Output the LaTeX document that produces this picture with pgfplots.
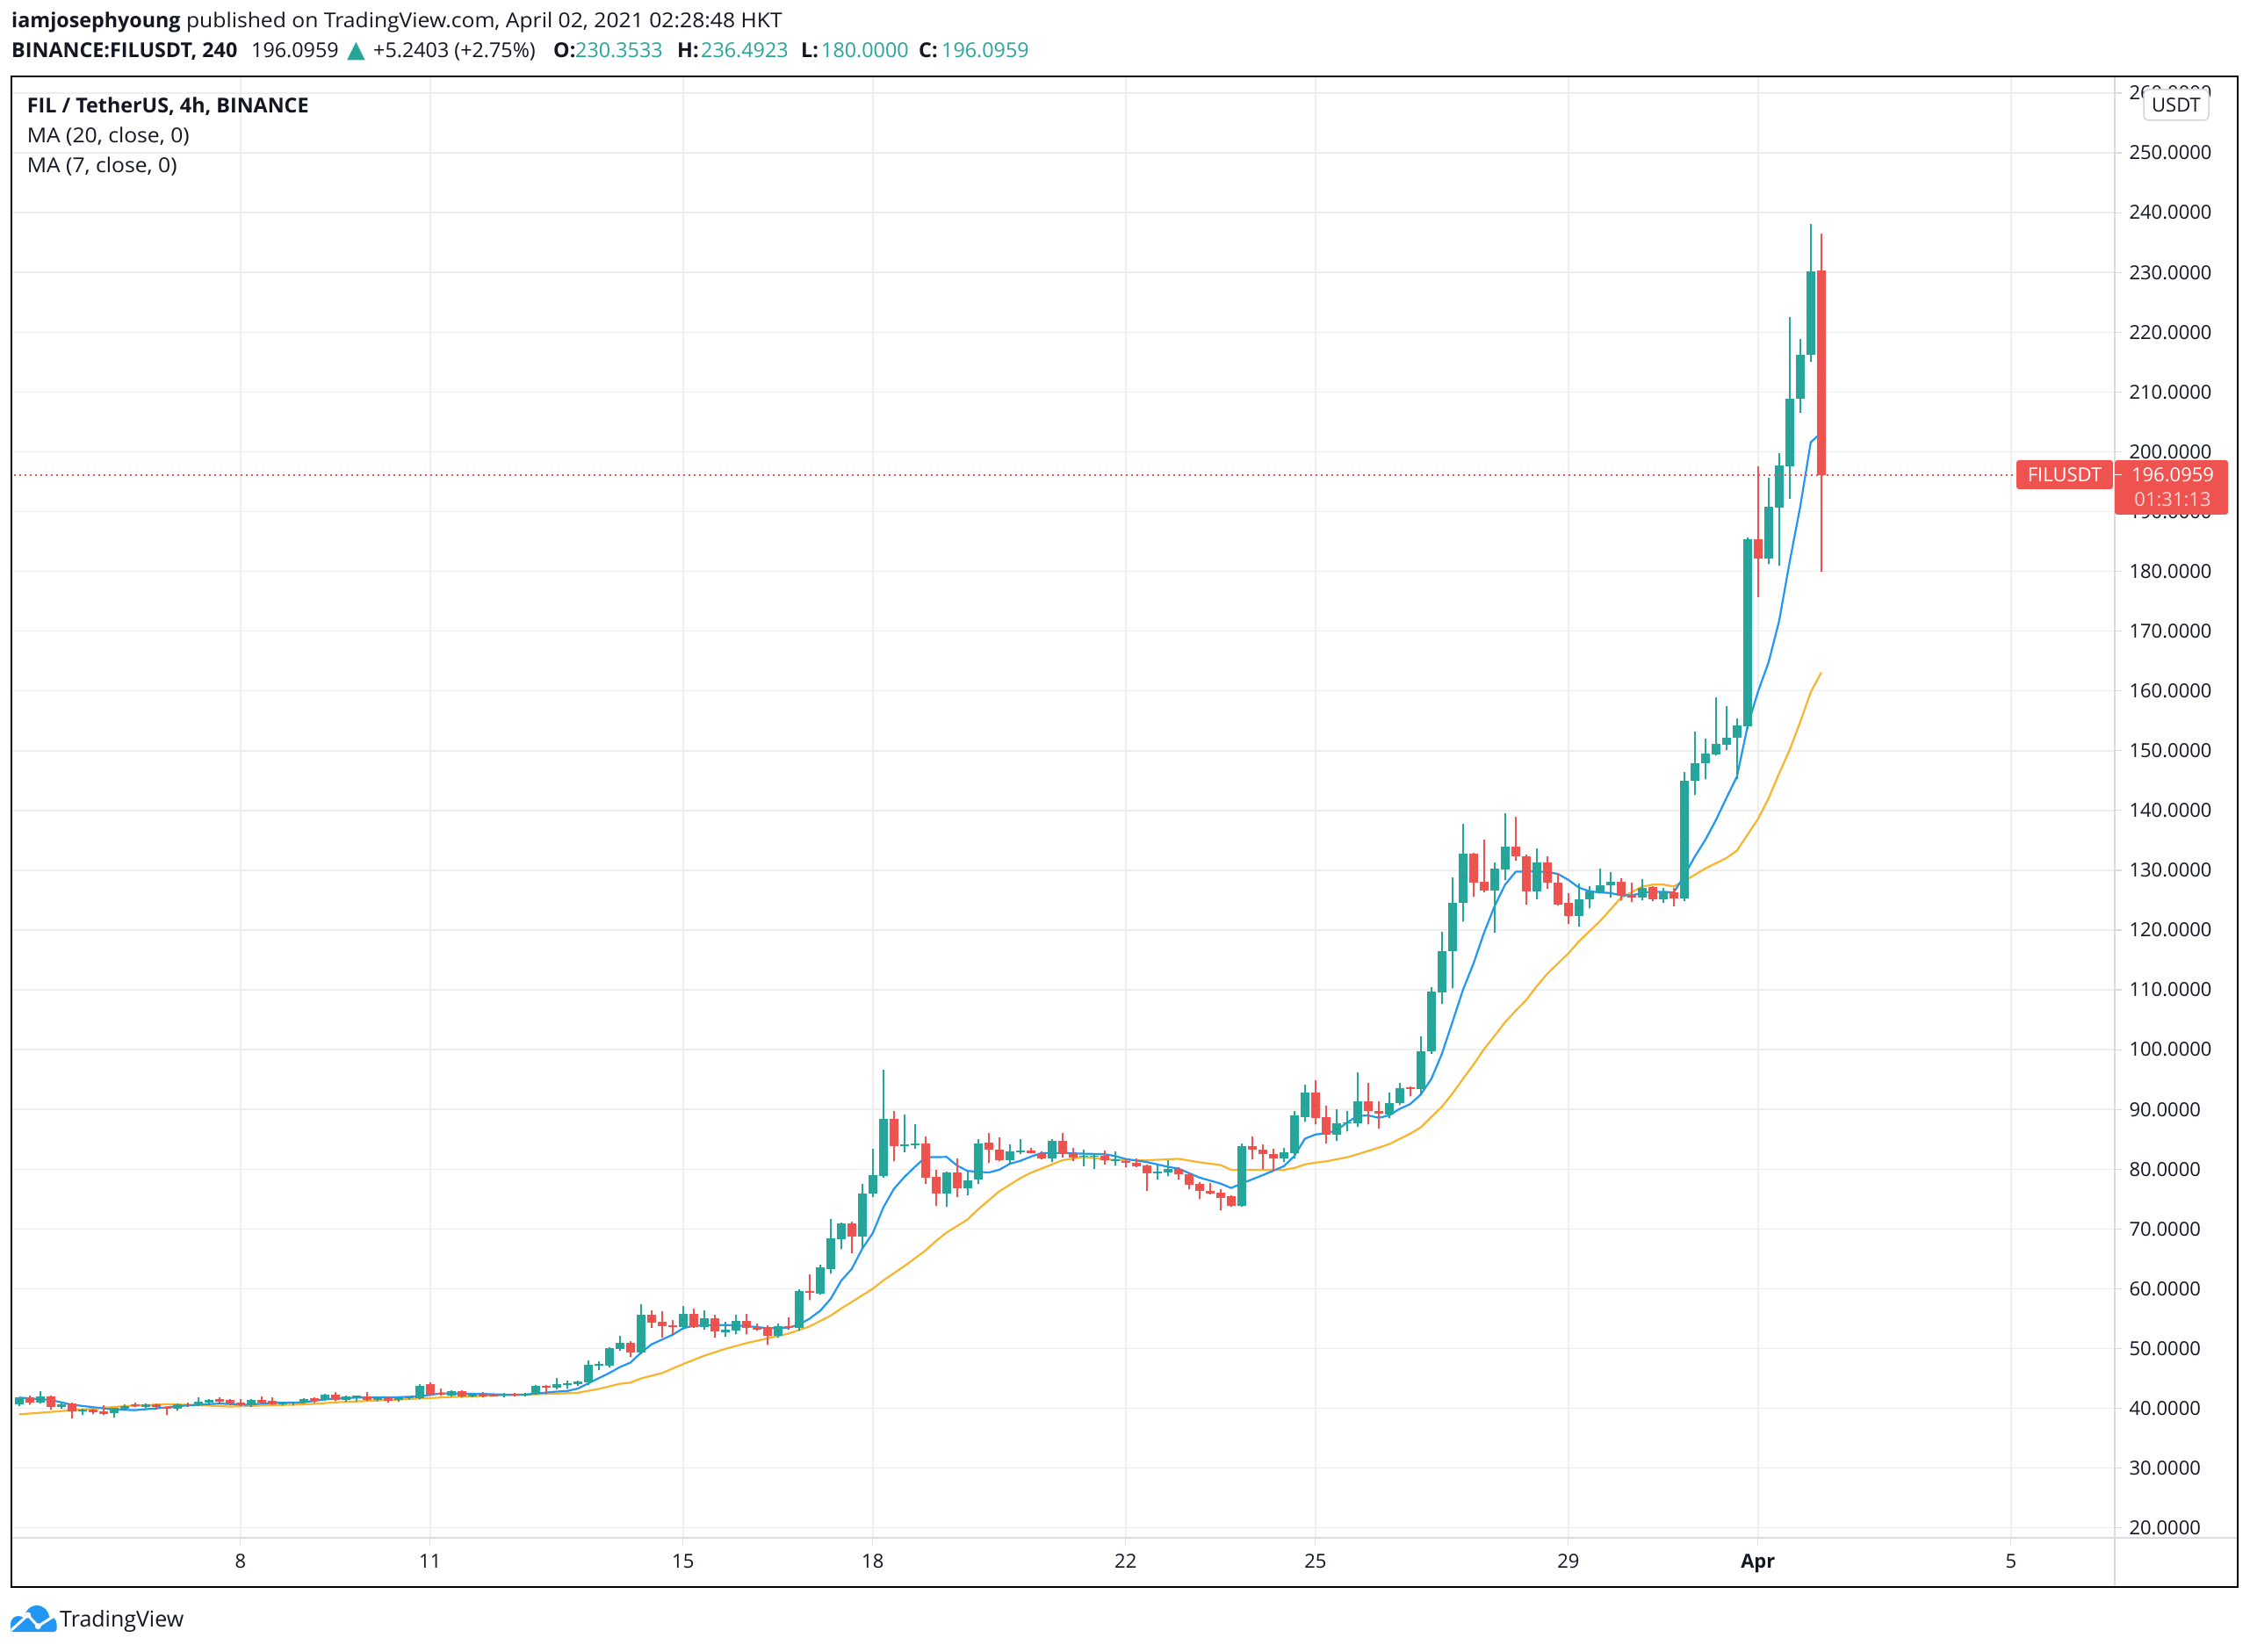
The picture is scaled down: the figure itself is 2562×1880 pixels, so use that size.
\documentclass[border=0pt]{standalone}
\usepackage{pgfplots}
\pgfplotsset{compat=1.18}
\usepackage{pgfplotstable}
\usepackage{fontspec}
\setmainfont{Open Sans}
\newfontfamily\hreg{Open Sans}[FakeStretch=1.06]
\newfontfamily\symfont{DejaVu Sans}
\definecolor{upc}{HTML}{26A69A}
\definecolor{dnc}{HTML}{EF5350}
\definecolor{ma7}{HTML}{2196F3}
\definecolor{ma20}{HTML}{F9B42D}
\definecolor{tvtext}{HTML}{131722}
\definecolor{gridc}{HTML}{EEEEEE}
\definecolor{sepc}{HTML}{D9DBE0}
\definecolor{boxb}{HTML}{D1D4DC}
\newcommand\hfont{\fontsize{23.3bp}{28bp}\selectfont}
\newcommand\afont{\fontsize{22bp}{26bp}\selectfont}
\newcommand\B[1]{{\rmfamily\bfseries #1}}

\pgfplotstableread{
i o h l c
0 40.7 41.9 40.4 41.8
2 41.0 42.8 40.8 42.0
4 40.3 41.1 40.0 40.7
6 39.5 39.9 38.9 39.8
9 39.2 40.1 38.4 40.05
10 40.0 40.7 39.8 40.4
12 40.3 40.8 40.1 40.6
15 39.9 40.8 39.6 40.6
17 40.5 41.8 40.4 41.1
18 41.0 41.5 40.8 41.4
22 40.5 41.6 40.3 41.4
25 40.7 41.1 40.5 41.0
26 40.8 41.1 40.5 41.0
27 41.0 41.7 40.8 41.5
29 41.4 42.4 41.2 42.3
31 41.4 42.1 41.1 42.0
32 41.8 42.2 41.2 42.1
34 41.4 42.0 41.2 41.9
36 41.4 41.9 41.1 41.8
37 41.7 42.0 41.5 41.9
38 41.7 44.0 41.6 43.7
41 42.2 43.0 42.0 42.9
43 42.0 42.5 41.9 42.4
46 42.2 42.6 41.9 42.4
48 42.2 42.6 42.0 42.4
49 42.4 43.9 42.3 43.7
51 43.4 45.1 43.2 44.0
52 44.0 44.7 43.3 44.2
53 44.0 44.7 43.8 44.5
54 44.4 48.0 43.9 47.3
55 47.2 47.8 46.4 47.5
56 47.2 50.2 46.9 50.1
57 49.95 52.15 49.7 50.9
59 49.3 57.4 49.1 55.6
63 53.6 57.1 53.2 55.8
65 53.6 56.4 53.2 55.0
67 52.7 54.5 52.05 53.2
68 53.0 55.6 52.4 54.6
72 52.2 54.2 51.8 53.7
74 53.5 59.9 53.0 59.6
76 59.2 64.0 59.0 63.55
77 63.3 71.6 62.5 68.4
78 68.3 71.1 66.6 71.0
80 68.7 77.5 66.9 76.0
81 75.9 83.4 75.4 79.0
82 78.9 96.6 78.6 88.35
84 83.85 89.2 82.9 84.1
85 84.0 87.5 83.4 84.25
88 75.96 79.6 73.7 79.4
90 76.8 79.7 75.7 78.2
91 78.3 85.0 77.6 84.3
94 81.5 84.1 81.0 83.0
95 82.9 85.0 82.6 83.1
98 81.8 85.1 81.2 84.7
101 82.05 83.3 80.5 82.3
102 82.1 82.6 80.1 82.3
104 81.3 82.96 80.6 81.6
108 79.3 80.6 78.3 79.6
109 79.4 81.5 78.8 80.0
116 73.9 84.3 73.7 83.8
120 81.8 83.5 81.2 82.8
121 82.7 89.7 81.75 89.0
122 88.75 94.1 87.9 92.8
125 85.8 90.0 84.8 87.65
126 87.7 89.7 86.3 87.9
127 87.65 96.2 87.1 91.4
130 89.2 92.8 88.6 91.0
131 91.0 94.5 90.7 93.6
133 93.4 102.2 92.7 99.8
134 99.7 110.4 99.3 109.7
135 109.5 119.7 107.7 116.5
136 116.5 128.8 110.3 124.6
137 124.6 137.8 121.4 132.8
140 126.6 131.3 119.6 130.3
141 130.2 139.6 128.4 133.9
144 126.4 133.7 125.2 131.3
148 122.3 127.8 120.6 125.2
149 125.2 127.4 123.6 126.5
150 126.3 130.3 126.1 127.5
151 127.5 129.7 125.45 128.1
154 125.4 128.5 125.0 127.1
156 125.2 127.05 124.55 126.3
158 125.3 146.5 124.9 145.0
159 145.0 153.2 142.6 147.9
160 147.9 152.0 145.2 149.6
161 149.4 158.9 149.2 151.1
162 151.0 157.5 150.15 152.2
163 152.2 155.4 145.3 154.2
164 154.1 185.6 153.6 185.4
166 182.2 195.7 181.2 190.8
167 190.6 199.8 180.9 197.7
168 197.6 222.5 192.2 208.9
169 208.9 218.9 206.6 216.2
170 216.2 238.1 215.1 230.2
}\upT

\pgfplotstableread{
i o h l c
1 41.8 42.2 40.6 41.0
3 42.0 42.1 39.8 40.3
5 40.8 40.9 38.3 39.5
7 39.8 39.9 39.0 39.4
8 39.5 40.5 38.9 39.1
11 40.6 40.9 40.2 40.4
13 40.6 40.8 39.8 40.2
14 40.2 40.3 38.9 40.0
16 40.7 40.9 40.3 40.5
19 41.5 41.9 40.9 41.1
20 41.4 41.5 40.6 40.8
21 41.0 41.6 40.4 40.5
23 41.4 42.0 40.8 41.0
24 41.3 41.8 40.6 40.7
28 41.7 41.8 40.9 41.3
30 42.3 42.7 41.2 41.4
33 42.0 42.7 41.3 41.4
35 41.9 42.0 40.9 41.3
39 44.0 44.3 42.2 42.3
40 42.6 43.3 42.1 42.3
42 42.9 43.0 41.8 42.0
44 42.5 42.7 41.9 42.0
45 42.3 42.5 42.0 42.1
47 42.4 42.6 42.0 42.2
50 43.7 43.9 42.4 43.4
58 50.9 51.2 48.6 49.3
60 55.6 56.4 53.5 54.35
61 54.45 56.2 51.9 53.8
62 53.85 54.8 52.3 53.7
64 55.8 56.7 53.5 53.6
66 55.0 55.6 51.9 52.8
69 54.6 55.8 52.4 53.4
70 53.5 54.2 53.0 53.2
71 53.4 53.9 50.6 52.2
73 53.75 55.2 53.2 53.4
75 59.6 62.4 58.1 59.3
79 71.0 71.2 66.0 68.7
83 88.35 89.7 81.3 83.9
86 84.25 85.5 77.6 78.6
87 78.7 79.9 73.9 75.9
89 79.4 81.8 75.4 76.8
92 84.5 86.1 81.0 83.2
93 83.3 85.3 81.3 81.5
96 83.1 83.5 82.7 82.75
97 82.6 82.96 81.7 81.8
99 84.7 86.1 82.0 82.5
100 82.6 83.5 81.4 82.0
103 82.2 83.1 80.8 81.5
105 81.4 81.65 80.4 81.1
106 81.1 81.75 80.4 80.5
107 80.7 80.8 76.4 79.3
110 80.0 80.4 78.3 79.1
111 79.2 79.3 76.65 77.4
112 77.6 77.9 75.0 76.3
113 76.4 77.7 75.8 75.9
114 76.1 76.6 73.2 75.2
115 75.5 75.6 73.7 73.9
117 83.8 85.5 81.6 83.3
118 83.3 84.1 80.1 82.5
119 82.5 83.4 79.6 81.8
123 92.8 94.85 87.5 88.6
124 88.7 90.6 84.3 85.8
128 91.4 94.5 87.5 89.8
129 89.8 91.3 86.8 89.3
132 93.6 93.9 92.2 93.5
138 132.8 133.0 125.6 127.9
139 128.1 135.1 126.35 126.6
142 133.9 139.0 131.6 132.3
143 132.3 132.6 124.3 126.4
145 131.3 132.3 126.9 127.9
146 128.0 129.6 124.1 124.3
147 124.6 126.1 121.0 122.3
152 128.1 128.7 124.95 125.9
153 125.9 127.9 124.7 125.4
155 127.2 127.3 124.9 125.2
157 126.3 127.0 124.0 125.3
165 185.4 197.5 175.7 182.2
171 230.3533 236.4923 180.0 196.0959
}\downT

\pgfplotsset{candle/.style={only marks, mark=*, mark size=0.01pt,
  mark options={draw=none, fill=none}, forget plot,
  error bars/y dir=both, error bars/y explicit, error bars/error mark=none}}

\begin{document}
\begin{tikzpicture}[x=1bp,y=1bp]
\fill[white] (0,0) rectangle (2562,1880);
\useasboundingbox (0,0) rectangle (2562,1880);
\begin{axis}[at={(13bp,129bp)}, anchor=south west, scale only axis,
  width=2395bp, height=1664bp,
  xmin=-0.733, xmax=198.85, ymin=18.34, ymax=262.8,
  xtick={21,39,63,81,105,123,147,165,189},
  xticklabels={8,11,15,18,22,25,29,\textbf{Apr},5},
  ytick={20,30,...,260},
  yticklabel={\pgfmathprintnumber[fixed,fixed zerofill,precision=4,1000 sep={}]{\tick}},
  /pgf/number format/assume math mode=true,
  xtick pos=bottom, ytick pos=right, yticklabel pos=right,
  tick align=outside, major tick length=8bp,
  tick style={sepc, line width=1.2bp},
  grid=major, major grid style={gridc, line width=1.5bp},
  axis line style={sepc, line width=1.5bp},
  tick label style={font=\afont, text=tvtext},
  yticklabel style={anchor=west, xshift=5bp},
  xticklabel style={anchor=base, yshift=-26bp},
]
\addplot[ma20, line width=2.2bp, forget plot] coordinates {
(0,39.0) (3,39.4) (6,39.8) (9.5,40.3) (14,40.7) (16.6,40.55) (20,40.3) (23.6,40.5) (27,40.65) (30.6,41.05) (34,41.3) (37.6,41.6) (41,41.9) (44.6,42.1) (48,42.3) (51.6,42.5) (53,42.6) (55,43.25) (57,44.1) (58,44.3) (59,45.0) (61,45.9) (63,47.4) (65,48.8) (67,49.95) (69,50.9) (71,51.7) (73,52.5) (75,53.7) (77,55.5) (78,56.7) (80,58.9) (81,60.0) (82,61.4) (84,63.8) (86,66.4) (87,68.0) (88,69.4) (90,71.6) (91,73.3) (93,76.3) (95,78.5) (96,79.4) (99,81.5) (101,82.05) (103,81.65) (105,81.5) (107,81.5) (109,81.65) (110,81.75) (112,81.15) (114,80.7) (115,79.9) (118,79.9) (120,79.9) (121,80.2) (122,80.8) (123,81.1) (124,81.3) (126,82.0) (127,82.5) (129,83.6) (130,84.2) (132,85.95) (133,87.0) (134,88.75) (135,90.45) (136,92.65) (137,95.1) (138,97.5) (139,100.1) (140,102.3) (141,104.6) (142,106.5) (143,108.3) (144,110.6) (145,112.7) (146,114.4) (147,116.1) (148,118.1) (149,119.8) (150,121.5) (152,125.4) (154,127.25) (155,127.6) (156,127.6) (157,127.3) (158,128.2) (160,130.3) (162,132.05) (163,133.3) (164,135.95) (165,138.6) (166,142.05) (167,146.2) (168,150.15) (169,154.8) (170,159.8) (171,163.1)
};
\addplot[ma7, line width=2.2bp, forget plot] coordinates {
(0,41.8) (3,41.4) (5,40.6) (7,40.2) (9,39.8) (11,39.7) (13,40.0) (16,40.5) (19,40.8) (21.5,40.6) (24,40.9) (27,41.0) (29,41.5) (32,41.8) (35,41.8) (38,42.0) (40,42.5) (44,42.4) (46,42.3) (48,42.3) (51,42.8) (52,42.9) (53,43.3) (55,45.05) (56,45.9) (57,46.9) (58,47.65) (59,49.3) (60,50.7) (62,52.3) (63,53.4) (64,53.8) (66,53.95) (68,53.9) (70,53.6) (71,53.4) (73,53.5) (74,54.0) (75,55.0) (76,56.3) (77,58.3) (78,61.35) (79,63.3) (80,66.7) (81,69.3) (82,73.6) (83,76.7) (84,78.7) (85,80.4) (86,82.0) (88,82.05) (89,80.6) (90,79.7) (92,79.45) (93,79.9) (94,80.9) (95,81.4) (96,82.1) (97,82.7) (99,82.7) (101,82.6) (103,82.5) (104,82.2) (105,81.7) (107,81.2) (109,80.4) (110,80.1) (112,78.6) (114,77.6) (115,76.85) (116,77.6) (118,79.0) (120,80.5) (121,82.2) (122,85.1) (123,85.8) (124,86.0) (125,86.5) (126,87.8) (127,88.9) (128,89.0) (129,88.6) (130,89.0) (131,90.1) (132,90.9) (133,92.5) (134,95.1) (135,99.3) (136,104.6) (137,110.0) (138,114.4) (139,119.55) (140,124.0) (141,127.6) (142,129.75) (143,129.8) (144,129.8) (145,129.7) (146,129.4) (147,128.4) (148,127.1) (149,126.5) (150,126.3) (151,126.2) (152,125.8) (153,125.8) (154,126.2) (155,126.4) (156,126.4) (157,126.3) (158,129.1) (159,132.3) (160,135.1) (161,138.4) (162,142.1) (163,145.7) (164,154.05) (165,159.9) (166,164.8) (167,171.7) (168,181.6) (169,190.8) (170,201.6) (171,203.2)
};
% wicks
\addplot[candle, error bars/error bar style={upc, line width=2bp}]
  table[x=i, y expr=\thisrow{l}, y error plus expr={\thisrow{h}-\thisrow{l}}, y error minus expr=0] {\upT};
\addplot[candle, error bars/error bar style={dnc, line width=2bp}]
  table[x=i, y expr=\thisrow{l}, y error plus expr={\thisrow{h}-\thisrow{l}}, y error minus expr=0] {\downT};
% bodies
\addplot[candle, error bars/error bar style={upc, line width=10bp}]
  table[x=i, y expr={(\thisrow{o}+\thisrow{c})/2}, y error expr={max(abs(\thisrow{c}-\thisrow{o})/2,0.1)}] {\upT};
\addplot[candle, error bars/error bar style={dnc, line width=10bp}]
  table[x=i, y expr={(\thisrow{o}+\thisrow{c})/2}, y error expr={max(abs(\thisrow{c}-\thisrow{o})/2,0.1)}] {\downT};
% last price line
\addplot[dnc, line width=1.3bp, dash pattern=on 2.5bp off 3.5bp, forget plot] coordinates {(-1,196.0959) (200,196.0959)};
\end{axis}
% separators and frame
\draw[sepc, line width=1.5bp] (2408,73) -- (2408,1793);
\draw[sepc, line width=1.5bp] (13,129) -- (2548,129);
\draw[black, line width=2.4bp] (13,73) rectangle (2548,1793);
% header line 1
\node[anchor=base west, inner sep=0, text=tvtext, font=\hfont] at (13,1848.3)
  {\B{iamjosephyoung}{\hreg\ published on TradingView.com, April 02, 2021 02:28:48 HKT}};
% header line 2
\begin{scope}[every node/.style={anchor=base west, inner sep=0, text=tvtext, font=\hfont}]
\node at (13,1814.3) {\B{BINANCE:FILUSDT, 240}};
\node at (286,1814.3) {196.0959};
\node[text=upc] at (395,1814.3) {\symfont\fontsize{27bp}{30bp}\selectfont ▲};
\node at (425,1814.3) {+5.2403 (+2.75\%)};
\node at (630,1814.3) {\B{O:}};
\node[text=upc] at (655,1814.3) {230.3533};
\node at (771,1814.3) {\B{H:}};
\node[text=upc] at (798,1814.3) {236.4923};
\node at (912,1814.3) {\B{L:}};
\node[text=upc] at (935,1814.3) {180.0000};
\node at (1046,1814.3) {\B{C:}};
\node[text=upc] at (1072,1814.3) {196.0959};
\end{scope}
% legend
\node[anchor=base west, inner sep=0, text=tvtext, font=\hfont] at (30.7,1751.7) {\B{FIL / TetherUS, 4h, BINANCE}};
\node[anchor=base west, inner sep=0, text=tvtext, font=\hfont] at (30.7,1717.3) {\hreg MA (20, close, 0)};
\node[anchor=base west, inner sep=0, text=tvtext, font=\hfont] at (30.7,1683.3) {\hreg MA (7, close, 0)};
% USDT box
\draw[boxb, fill=white, line width=1.5bp, rounded corners=6bp] (2441,1743) rectangle (2515,1778);
\node[text=tvtext, font=\afont, inner sep=0] at (2478,1760.5) {USDT};
% price label
\fill[dnc, rounded corners=3bp] (2296,1323) rectangle (2406,1356);
\node[text=white, font=\afont, inner sep=0] at (2351,1339.5) {FILUSDT};
\fill[dnc, rounded corners=3bp] (2408,1294) rectangle (2537,1356);
\draw[white, line width=1.5bp] (2408,1339.5) -- (2416,1339.5);
\node[text=white, font=\afont, inner sep=0] at (2474,1339.5) {196.0959};
\node[text=white!75!dnc, font=\afont, inner sep=0] at (2474,1311) {01:31:13};
% logo
\fill[ma7] (21,31) circle (9);
\fill[ma7] (42,38) circle (14);
\fill[ma7] (56,31) circle (8.5);
\fill[ma7, rounded corners=3bp] (12,22) rectangle (64.5,33);
\draw[white, line width=3bp, line join=round] (13,24) -- (31.7,41) -- (43.3,28.3) -- (60,39);
\fill[white] (31.7,41) circle (3.5);
\fill[white] (43.3,28.3) circle (3.5);
\node[anchor=base west, inner sep=0, text=tvtext, font=\fontsize{25bp}{30bp}\selectfont] at (68,28) {TradingView};
\end{tikzpicture}
\end{document}
